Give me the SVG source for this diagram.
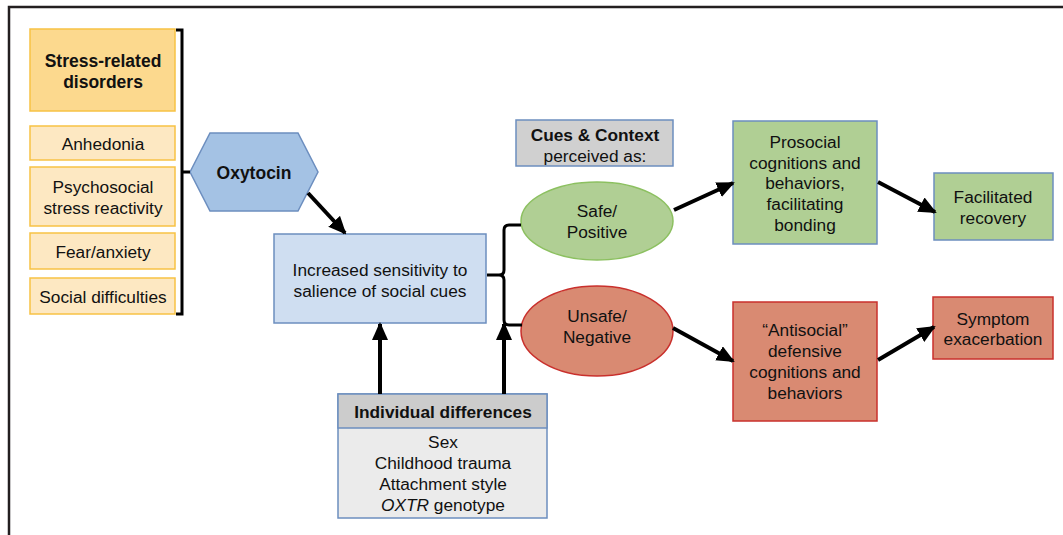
<svg xmlns="http://www.w3.org/2000/svg" width="1063" height="535" viewBox="0 0 1063 535">
<defs>
<marker id="ah" markerUnits="userSpaceOnUse" markerWidth="18" markerHeight="16" refX="16" refY="8" orient="auto">
<path d="M0,0 L18,8 L0,16 Z" fill="#000"/>
</marker>
<style>
text{font-family:"Liberation Sans",Arial,sans-serif;font-size:17.3px;fill:#111;text-anchor:middle}
.b{font-weight:bold}
.big{font-size:17.5px}
.dis{fill:#fcd98e;stroke:#f7c244;stroke-width:1.5}
.sym{fill:#fde8c2;stroke:#f7c244;stroke-width:1.5}
.blue{stroke:#6c8ebf;stroke-width:1.5}
.green{fill:#b0cf94}
.red{fill:#d98a72;stroke:#c9302c;stroke-width:1.5}
.con{fill:none;stroke:#000;stroke-width:4}
.br{fill:none;stroke:#000;stroke-width:3}
</style>
</defs>
<rect width="1063" height="535" fill="#fff"/>
<path d="M9,535 V7 H1063" fill="none" stroke="#231f20" stroke-width="2.5"/>

<g id="stress-disorders">
<rect class="dis" x="30" y="29" width="145" height="82"/>
<text class="b big" x="103" y="67">Stress-related</text>
<text class="b big" x="103" y="88">disorders</text>
</g>
<g id="anhedonia">
<rect class="sym" x="30" y="126" width="145" height="34"/>
<text x="103" y="150">Anhedonia</text>
</g>
<g id="psychosocial">
<rect class="sym" x="30" y="167" width="145" height="59"/>
<text x="103" y="193">Psychosocial</text>
<text x="103" y="214">stress reactivity</text>
</g>
<g id="fear">
<rect class="sym" x="30" y="233" width="145" height="36"/>
<text x="103" y="258">Fear/anxiety</text>
</g>
<g id="social-difficulties">
<rect class="sym" x="30" y="278" width="145" height="36"/>
<text x="103" y="303">Social difficulties</text>
</g>

<g id="oxytocin">
<polygon points="190,172 210,133 298,133 318,172 298,211 210,211" fill="#a4c2e4" stroke="#6c8ebf" stroke-width="1.5"/>
<text class="b big" x="254" y="179">Oxytocin</text>
</g>

<g id="sensitivity">
<rect x="274" y="234" width="212" height="89" fill="#cfdef1" class="blue"/>
<text x="380" y="276">Increased sensitivity to</text>
<text x="380" y="297">salience of social cues</text>
</g>

<g id="cues-context">
<rect x="516" y="120" width="157" height="46" fill="#d0d0d0" class="blue"/>
<text class="b" x="595" y="141">Cues &amp; Context</text>
<text x="595" y="162">perceived as:</text>
</g>

<g id="safe">
<ellipse cx="597" cy="221" rx="76" ry="39" fill="#b0cf94" stroke="#8cc060" stroke-width="1.5"/>
<text x="597" y="217">Safe/</text>
<text x="597" y="238">Positive</text>
</g>

<g id="unsafe">
<ellipse cx="597" cy="331" rx="76" ry="45" class="red"/>
<text x="597" y="322">Unsafe/</text>
<text x="597" y="343">Negative</text>
</g>

<g id="prosocial">
<rect x="733" y="121" width="144" height="123" class="green blue"/>
<text x="805" y="148">Prosocial</text>
<text x="805" y="169">cognitions and</text>
<text x="805" y="189">behaviors,</text>
<text x="805" y="210">facilitating</text>
<text x="805" y="231">bonding</text>
</g>

<g id="recovery">
<rect x="934" y="173" width="119" height="67" class="green blue"/>
<text x="993" y="203">Facilitated</text>
<text x="993" y="224">recovery</text>
</g>

<g id="antisocial">
<rect x="733" y="302" width="144" height="119" class="red"/>
<text x="805" y="336">“Antisocial”</text>
<text x="805" y="357">defensive</text>
<text x="805" y="378">cognitions and</text>
<text x="805" y="399">behaviors</text>
</g>

<g id="symptom">
<rect x="933" y="297" width="120" height="62" class="red"/>
<text x="993" y="325">Symptom</text>
<text x="993" y="345">exacerbation</text>
</g>

<g id="individual-differences">
<rect x="338" y="394" width="209" height="124" fill="#ebebeb" class="blue"/>
<rect x="338" y="394" width="209" height="34" fill="#cccccc" class="blue"/>
<text class="b" x="443" y="418">Individual differences</text>
<text x="443" y="448">Sex</text>
<text x="443" y="469">Childhood trauma</text>
<text x="443" y="490">Attachment style</text>
<text x="443" y="511"><tspan font-style="italic">OXTR</tspan> genotype</text>
</g>

<g id="connectors">
<path class="br" d="M176,30 H182 V314 H176 M182,172 H190"/>
<path class="br" d="M521,225 H509 Q504,225 504,230 V270 Q504,275 499,275 H487 M499,275 Q504,275 504,280 V320 Q504,325 509,325 H522"/>
<line class="con" x1="308" y1="193" x2="345" y2="233" marker-end="url(#ah)"/>
<line class="con" x1="380" y1="394" x2="380" y2="324" marker-end="url(#ah)"/>
<line class="con" x1="504" y1="394" x2="504" y2="324" marker-end="url(#ah)"/>
<line class="con" x1="674" y1="210" x2="733" y2="183" marker-end="url(#ah)"/>
<line class="con" x1="878" y1="182" x2="935" y2="212" marker-end="url(#ah)"/>
<line class="con" x1="673" y1="328" x2="733" y2="361" marker-end="url(#ah)"/>
<line class="con" x1="878" y1="360" x2="934" y2="327" marker-end="url(#ah)"/>
</g>
</svg>
